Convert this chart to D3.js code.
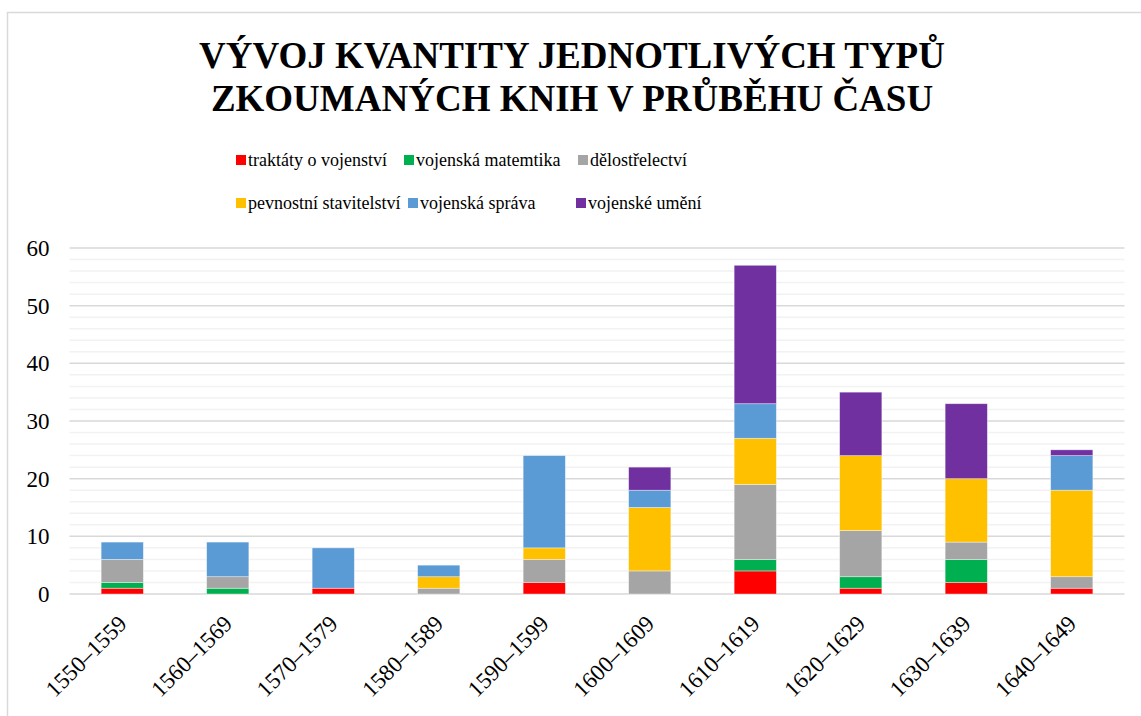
<!DOCTYPE html>
<html lang="cs">
<head>
    <meta charset="UTF-8">
    <title>Vývoj kvantity jednotlivých typů zkoumaných knih</title>
    <script src="https://d3js.org/d3.v7.min.js"></script>
    <style>
        body { margin: 0; background: #fff; }
        svg { display: block; }
        svg text { font-family: "Liberation Serif", "Times New Roman", serif; }
    </style>
</head>
<body>
    <svg width="1141" height="716"></svg>

    <script>
        // Decades on the x axis
        const decades = ["1550–1559", "1560–1569", "1570–1579", "1580–1589", "1590–1599",
                         "1600–1609", "1610–1619", "1620–1629", "1630–1639", "1640–1649"];

        // Series names (legend order = stacking order, bottom to top)
        const seriesNames = ["traktáty o vojenství", "vojenská matemtika", "dělostřelectví",
                             "pevnostní stavitelství", "vojenská správa", "vojenské umění"];
        const seriesColors = ["#FF0000", "#00B050", "#A5A5A5", "#FFC000", "#5B9BD5", "#7030A0"];

        // Values per series, one per decade
        const traktaty   = [1, 0, 1, 0, 2, 0, 4, 1, 2, 1];
        const matematika = [1, 1, 0, 0, 0, 0, 2, 2, 4, 0];
        const delostrel  = [4, 2, 0, 1, 4, 4, 13, 8, 3, 2];
        const pevnostni  = [0, 0, 0, 2, 2, 11, 8, 13, 11, 15];
        const sprava     = [3, 6, 7, 2, 16, 3, 6, 0, 0, 6];
        const umeni      = [0, 0, 0, 0, 0, 4, 24, 11, 13, 1];

        const yTicks = [0, 10, 20, 30, 40, 50, 60];

        const width = 1141;
        const height = 716;
        const margin = {top: 248, right: 16, bottom: 122, left: 69.5};
        const plotWidth = 1055;

        const svg = d3.select("svg");

        // Chart area border (the chart is cropped on right/bottom)
        svg.append("rect")
            .attr("x", 7.5).attr("y", 12.5)
            .attr("width", width + 20).attr("height", height + 20)
            .attr("fill", "none")
            .attr("stroke", "#d9d9d9")
            .attr("stroke-width", 1.5);

        // Build table for the stack
        const seriesData = [traktaty, matematika, delostrel, pevnostni, sprava, umeni];
        const table = decades.map((d, i) => {
            const row = {decade: d};
            seriesNames.forEach((s, k) => row[s] = seriesData[k][i]);
            return row;
        });
        const stacked = d3.stack().keys(seriesNames)(table);

        const x = d3.scaleBand()
            .domain(decades)
            .range([margin.left, margin.left + plotWidth])
            .paddingInner(0.6)
            .paddingOuter(0.3);

        const y = d3.scaleLinear()
            .domain([0, 60])
            .range([height - margin.bottom, margin.top]);

        // Minor gridlines every 2
        svg.append("g")
            .selectAll("line")
            .data(d3.range(2, 60, 2).filter(v => v % 10 !== 0))
            .join("line")
            .attr("x1", margin.left).attr("x2", margin.left + plotWidth)
            .attr("y1", d => y(d)).attr("y2", d => y(d))
            .attr("stroke", "#f2f2f2")
            .attr("stroke-width", 1.5);

        // Major gridlines
        svg.append("g")
            .selectAll("line")
            .data(yTicks)
            .join("line")
            .attr("x1", margin.left).attr("x2", margin.left + plotWidth)
            .attr("y1", d => y(d)).attr("y2", d => y(d))
            .attr("stroke", "#d9d9d9")
            .attr("stroke-width", 1.5);

        // Y axis labels
        const yAxis = svg.append("g")
            .attr("transform", `translate(${margin.left - 20},0)`)
            .call(d3.axisLeft(y).tickValues(yTicks).tickSize(0).tickPadding(0));
        yAxis.select(".domain").remove();
        yAxis.attr("font-family", null);
        yAxis.selectAll("text")
            .style("font-family", "'Liberation Serif', 'Times New Roman', serif")
            .style("font-size", "23px")
            .attr("fill", "#000");

        // Stacked bars
        svg.append("g")
            .selectAll("g")
            .data(stacked)
            .join("g")
            .attr("fill", (d, i) => seriesColors[i])
            .selectAll("rect")
            .data(d => d)
            .join("rect")
            .attr("x", d => x(d.data.decade))
            .attr("y", d => y(d[1]))
            .attr("width", x.bandwidth())
            .attr("height", d => y(d[0]) - y(d[1]))
            .attr("stroke", "#fff")
            .attr("stroke-opacity", 0.5)
            .attr("stroke-width", d => (d[1] - d[0]) > 0 ? 0.75 : 0);

        // X axis labels, rotated
        const xAxis = svg.append("g")
            .attr("transform", `translate(0,${height - margin.bottom})`)
            .call(d3.axisBottom(x).tickSize(0).tickPadding(0));
        xAxis.select(".domain").remove();
        xAxis.attr("font-family", null);
        xAxis.selectAll("text")
            .style("font-family", "'Liberation Serif', 'Times New Roman', serif")
            .style("font-size", "23px")
            .attr("fill", "#000")
            .attr("text-anchor", "end")
            .attr("dy", "0")
            .attr("transform", "translate(6,31) rotate(-45)");

        // Title
        const title = svg.append("text")
            .attr("text-anchor", "middle")
            .attr("font-weight", "bold")
            .attr("font-size", "37px")
            .attr("fill", "#000");
        title.append("tspan").attr("x", 572).attr("y", 68).text("VÝVOJ KVANTITY JEDNOTLIVÝCH TYPŮ");
        title.append("tspan").attr("x", 572).attr("y", 111).text("ZKOUMANÝCH KNIH V PRŮBĚHU ČASU");

        // Legend (Excel lays out the entries in two rows of three)
        const legendX = [236, 404, 578, 236, 408, 576];
        const legendY = [160, 203];
        const legend = svg.append("g")
            .selectAll("g")
            .data(seriesNames)
            .join("g")
            .attr("transform", (d, i) => `translate(${legendX[i]},${legendY[Math.floor(i / 3)]})`);
        legend.append("rect")
            .attr("x", 0).attr("y", -5)
            .attr("width", 10).attr("height", 10)
            .attr("fill", (d, i) => seriesColors[i]);
        legend.append("text")
            .attr("x", 12)
            .attr("y", 0)
            .attr("dy", "0.32em")
            .attr("font-size", "18px")
            .attr("fill", "#000")
            .text(d => d);
    </script>
</body>
</html>
